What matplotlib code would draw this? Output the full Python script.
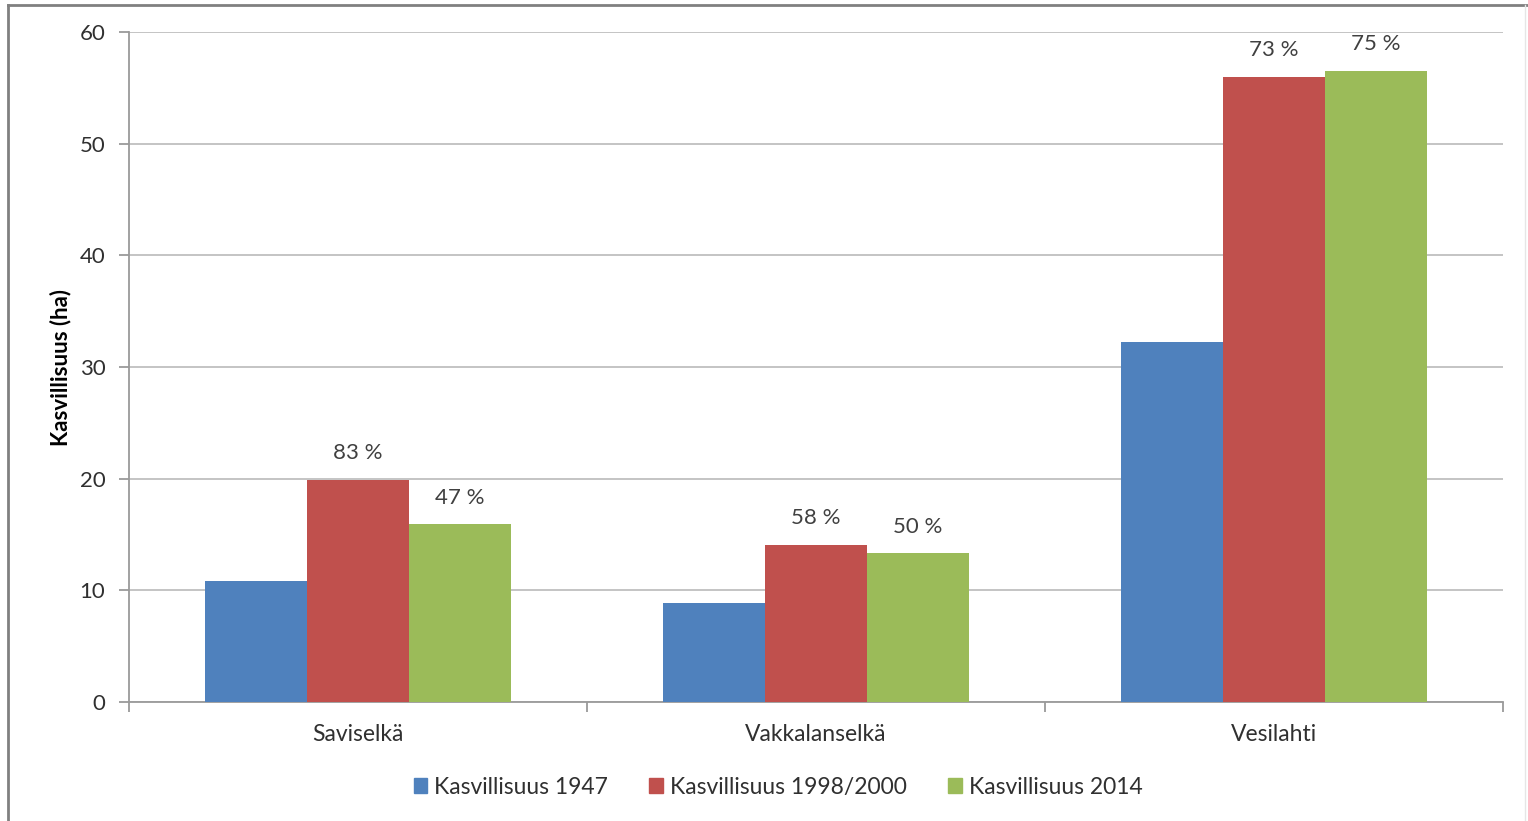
import matplotlib
matplotlib.use("Agg")
import matplotlib.pyplot as plt
import numpy as np
from matplotlib.patches import Rectangle
from matplotlib.lines import Line2D

categories = ["Saviselkä", "Vakkalanselkä", "Vesilahti"]
series_names = ["Kasvillisuus 1947", "Kasvillisuus 1998/2000", "Kasvillisuus 2014"]
v1947 = [10.8, 8.9, 32.2]
v1998 = [19.9, 14.1, 56.0]
v2014 = [15.9, 13.3, 56.5]
labels_1998 = ["83 %", "58 %", "73 %"]
labels_2014 = ["47 %", "50 %", "75 %"]
colors = ["#4F81BD", "#C0504D", "#9BBB59"]

plt.rcParams['font.family'] = ['Lato', 'DejaVu Sans']

fig = plt.figure(figsize=(15.28, 8.21), dpi=100)
ax = fig.add_axes([129/1528, 1-702/821, (1503-129)/1528, (702-32)/821])

x = np.arange(len(categories))
w = 0.223
series = [v1947, v1998, v2014]
for i, (vals, c) in enumerate(zip(series, colors)):
    ax.bar(x + (i-1)*w, vals, w, color=c, label=series_names[i], zorder=3)

for xi, v, lab in zip(x, v1998, labels_1998):
    ax.annotate(lab, (xi, v), xytext=(0, 12), textcoords='offset points',
                ha='center', va='bottom', fontsize=16, color='#404040')
for xi, v, lab in zip(x, v2014, labels_2014):
    ax.annotate(lab, (xi + w, v), xytext=(0, 12), textcoords='offset points',
                ha='center', va='bottom', fontsize=16, color='#404040')

ax.set_xlim(-0.5, 2.5)
ax.set_ylim(0, 60)
ax.set_yticks(range(0, 61, 10))
ax.yaxis.grid(True, color='#BFBFBF', linewidth=1.3, zorder=0)
ax.set_axisbelow(True)
for s in ['top', 'right']:
    ax.spines[s].set_visible(False)
ax.spines['left'].set_color('#9A9A9A')
ax.spines['bottom'].set_color('#9A9A9A')
ax.spines['left'].set_linewidth(1.3)
ax.spines['bottom'].set_linewidth(1.3)

ax.set_xticks(x)
ax.set_xticklabels(categories, fontsize=16.5, color='#303030')
ax.tick_params(axis='x', length=0, pad=16)
ax.set_xticks([-0.5, 0.5, 1.5, 2.5], minor=True)
ax.tick_params(axis='x', which='minor', length=7, color='#9A9A9A', width=1.3, direction='out')
ax.tick_params(axis='y', length=7, color='#9A9A9A', width=1.3, labelsize=16, labelcolor='#303030', pad=10)

ax.set_ylabel("Kasvillisuus (ha)", fontsize=16, fontweight='bold', color='black', labelpad=6)

handles = [Rectangle((0, 0), 1, 1, color=c) for c in colors]
fig.legend(handles, series_names, loc='center', bbox_to_anchor=(778/1528, 1-787/821),
           ncol=3, frameon=False, fontsize=16.5, handlelength=0.6, handleheight=0.6,
           handletextpad=0.3, columnspacing=1.8, labelcolor='#303030')

# outer frame like screenshot
fig.add_artist(Line2D([8/1528, 8/1528], [0, 1-5/821], transform=fig.transFigure, color='#808080', lw=2))
fig.add_artist(Line2D([8/1528, 1], [1-5/821, 1-5/821], transform=fig.transFigure, color='#808080', lw=2))
fig.add_artist(Line2D([1525/1528, 1525/1528], [0, 1-5/821], transform=fig.transFigure, color='#E6E6E6', lw=1))

fig.savefig("out.png", dpi=100, facecolor='white')
